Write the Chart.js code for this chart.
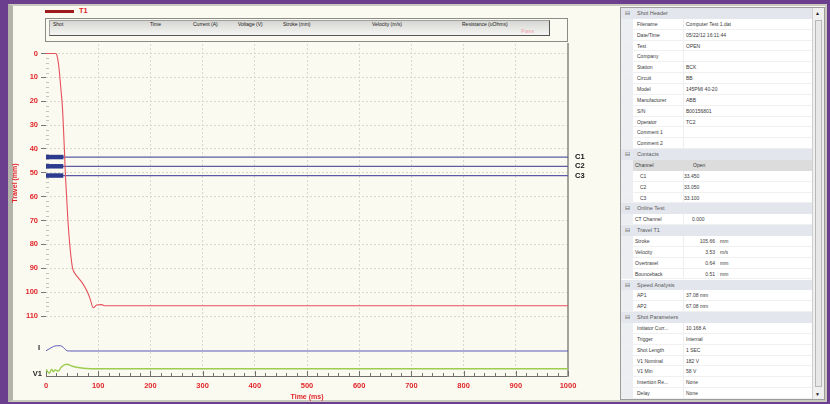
<!DOCTYPE html>
<html>
<head>
<meta charset="utf-8">
<script src="https://cdn.jsdelivr.net/npm/chart.js@4.4.1/dist/chart.umd.min.js"></script>
<style>
html,body{margin:0;padding:0;}
body{width:830px;height:404px;background:#6c3f8e;position:relative;overflow:hidden;font-family:"Liberation Sans",Arial,sans-serif;}
#win{position:absolute;left:8px;top:4px;width:812px;height:394px;background:#fbfaf1;border-left:5px solid #b3b3aa;border-top:2px solid #c9c9c0;border-right:2px solid #c9c9c0;border-bottom:2px solid #c9c9c0;}
#chart{position:absolute;left:0;top:0;z-index:2;}
.abs{position:absolute;white-space:nowrap;}
#legLine{left:45px;top:10px;width:29px;height:3px;background:#9e1b1b;}
#legText{left:79px;top:6px;font-size:7.5px;font-weight:bold;color:#e0262a;}
#hdrOuter{left:45px;top:18px;width:523px;height:24px;border:1px solid #8c8c86;box-sizing:border-box;}
#hdrBar{left:49px;top:20px;width:501px;height:16px;box-sizing:border-box;background:linear-gradient(#d6d6d3,#f5f5f3);border:1px solid #a0a0a0;border-right-color:#555;border-bottom-color:#555;}
.col{top:21px;font-size:5px;color:#222;}
#pass{left:521px;top:28px;font-size:6px;color:#f2a8b0;}
#pg{position:absolute;left:620px;top:7px;width:205px;height:393px;box-sizing:border-box;border:1px solid #9c9c9c;background:#fff;overflow:hidden;font-size:5px;color:#3a3a3a;}
.row{position:absolute;left:0;width:191px;height:10.86px;line-height:10.86px;}
.grp{background:#e3e6ec;color:#5a5a5a;}
.item{border-bottom:1px solid #f0f0f0;box-sizing:border-box;}
.strip{position:absolute;left:0;top:0;width:12px;height:100%;background:#eceef2;}
.div{position:absolute;left:62px;top:0;width:1px;height:100%;background:#eeeeee;}
.t{position:absolute;top:0;}
#sb{position:absolute;left:191px;top:0;width:12px;height:391px;background:#f0f0f0;border-left:1px solid #d0d0d0;box-sizing:border-box;}
#thumb{position:absolute;left:2px;top:12px;width:7px;height:367px;border:1px solid #b8b8b8;background:#e8e8e8;box-sizing:border-box;}
.arr{position:absolute;left:2px;font-size:5px;color:#222;}
</style>
</head>
<body>
<div id="win"></div>
<div class="abs" id="legLine"></div>
<div class="abs" id="legText">T1</div>
<div class="abs" id="hdrOuter"></div>
<div class="abs" id="hdrBar"></div>
<div class="abs col" style="left:53px">Shot</div>
<div class="abs col" style="left:150px">Time</div>
<div class="abs col" style="left:193px">Current (A)</div>
<div class="abs col" style="left:238px">Voltage (V)</div>
<div class="abs col" style="left:283px">Stroke (mm)</div>
<div class="abs col" style="left:372px">Velocity (m/s)</div>
<div class="abs col" style="left:462px">Resistance (uOhms)</div>
<div class="abs" id="pass">Pass</div>
<canvas id="chart" width="620" height="404"></canvas>
<div id="pg"><div id="sb"><div class="arr" style="top:2px">&#9650;</div><div id="thumb"></div><div class="arr" style="top:383px">&#9660;</div></div></div>
<script>

// Travel T1
const travelTimeMs = [0, 19, 21, 23, 25, 27, 29, 31, 33, 35, 37, 39.5, 42, 45.5, 50.5, 52.5, 60, 68.5, 78, 84.5, 90.5, 97, 106.5, 113, 1000];
const travelMm = [0, 0, 0.8, 3, 6.3, 11, 16, 21, 29, 39, 50, 60, 70, 80, 89.5, 91, 93.5, 95.8, 99.3, 102.8, 106.5, 105.4, 105.2, 105.7, 105.7];

// coil current I
const currentTimeMs = [0, 4, 8, 12, 17, 22, 27, 30, 33, 36, 40, 45, 1000];
const currentA = [0.6, 2.8, 5.2, 7.5, 9.6, 10.1, 10.2, 9.2, 7.1, 4, 0.6, 0, 0];

// voltage V1
const voltageTimeMs = [0, 6.3, 10.9, 14, 17.2, 23.6, 30, 39.7, 49.2, 58.8, 71.5, 85, 1000];
const voltageV = [166, 58, 166, 101, 147, 120, 236, 301, 255, 220, 193, 182, 182];

// contacts
const contactNames = ["C1", "C2", "C3"];
const contactOpenMs = [33.45, 33.05, 33.10];

const timeTicks = [0, 100, 200, 300, 400, 500, 600, 700, 800, 900, 1000];
const travelTicks = [0, 10, 20, 30, 40, 50, 60, 70, 80, 90, 100, 110];

const red = "#e0262a";
const gridCol = "#d9d8cc";
const tStart = timeTicks[0];
const tEnd = timeTicks[timeTicks.length - 1];

function pts(xs, ys){
    return xs.map((x, i) => ({x: x, y: ys[i]}));
}

// thick bar while the contact is closed (listed first so it draws on top)
const contactThick = contactNames.map((name, i) => ({
    label: name + " closed",
    data: [{x: tStart, y: i + 1}, {x: contactOpenMs[i], y: i + 1}],
    yAxisID: "yC",
    pointRadius: 0,
    borderColor: "#2c3b8e",
    borderWidth: 4.5,
    borderCapStyle: "butt"
}));

// thin line over the whole shot
const contactThin = contactNames.map((name, i) => ({
    label: name,
    data: [{x: tStart, y: i + 1}, {x: tEnd, y: i + 1}],
    yAxisID: "yC",
    pointRadius: 0,
    borderColor: "#5b5ba6",
    borderWidth: 1.2
}));

// minor tick marks along the axes
const minorTicks = {
    id: "minorTicks",
    beforeDatasetsDraw(chart){
        const c = chart.ctx;
        const x = chart.scales.x;
        const y = chart.scales.y;
        const area = chart.chartArea;
        c.save();
        c.lineWidth = 1;
        c.strokeStyle = "#707070";
        for(let t = 0; t <= 1000; t += 20){
            const px = Math.round(x.getPixelForValue(t)) + 0.5;
            const len = t % 100 === 0 ? 5 : 3;
            c.beginPath();
            c.moveTo(px, area.bottom);
            c.lineTo(px, area.bottom - len);
            c.stroke();
        }
        c.strokeStyle = "#c4c4bc";
        for(let v = 0; v <= 110; v += 2){
            if(v % 10 === 0) continue;
            const py = Math.round(y.getPixelForValue(v)) + 0.5;
            c.beginPath();
            c.moveTo(area.left, py);
            c.lineTo(area.left + 3, py);
            c.stroke();
        }
        c.restore();
    }
};

Chart.defaults.font.family = '"Liberation Sans", Arial, sans-serif';

new Chart(

    document.getElementById("chart"),

    {
        type: "line",

        data: {
            datasets: [
                {
                    label: "T1",
                    data: pts(travelTimeMs, travelMm),
                    yAxisID: "y",
                    borderColor: "#e5505a",
                    borderWidth: 1.1,
                    pointRadius: 0,
                    cubicInterpolationMode: "monotone"
                },
                {
                    label: "I",
                    data: pts(currentTimeMs, currentA),
                    yAxisID: "yI",
                    borderColor: "#5858b8",
                    borderWidth: 1,
                    pointRadius: 0,
                    cubicInterpolationMode: "monotone"
                },
                {
                    label: "V1",
                    data: pts(voltageTimeMs, voltageV),
                    yAxisID: "yV",
                    borderColor: "#9ccc50",
                    borderWidth: 1.4,
                    pointRadius: 0,
                    cubicInterpolationMode: "monotone"
                }
            ].concat(contactThick, contactThin)
        },

        options: {
            responsive: false,
            animation: false,
            layout: {padding: {top: 44, left: 0, right: 0, bottom: 0}},
            plugins: {
                legend: {display: false},
                tooltip: {enabled: false}
            },
            scales: {
                x: {
                    type: "linear",
                    position: "bottom",
                    min: tStart,
                    max: tEnd,
                    afterBuildTicks: s => { s.ticks = timeTicks.map(v => ({value: v})); },
                    ticks: {callback: v => String(v), color: red, font: {size: 7.5, weight: "bold"}, padding: 5, maxRotation: 0, autoSkip: false},
                    grid: {color: c => (c.tick && c.tick.value === 0) ? "rgba(0,0,0,0)" : gridCol, drawTicks: false},
                    border: {display: true, color: "#6e6e6a", width: 1, dash: [2, 2]},
                    title: {display: true, text: "Time (ms)", color: red, font: {size: 7, weight: "bold"}, padding: {top: 0, bottom: 3}},
                    afterFit: s => { s.height = 28; }
                },
                y: {
                    type: "linear",
                    position: "left",
                    stack: "L",
                    stackWeight: 278,
                    weight: 3,
                    reverse: true,
                    min: -3.98,
                    max: 112.5,
                    afterBuildTicks: s => { s.ticks = travelTicks.map(v => ({value: v})); },
                    ticks: {color: red, font: {size: 7.5, weight: "bold"}, padding: 3},
                    grid: {color: gridCol, tickColor: "#777", tickLength: 5},
                    border: {display: false, dash: [2, 2]},
                    title: {display: true, text: "Travel (mm)", color: red, font: {size: 7, weight: "bold"}, padding: {top: 11, bottom: 0}},
                    afterFit: s => { s.width = 46; }
                },
                yI: {
                    type: "linear",
                    position: "left",
                    stack: "L",
                    stackWeight: 36,
                    weight: 2,
                    min: -13.46,
                    max: 55.8,
                    afterBuildTicks: s => { s.ticks = [{value: 5}]; },
                    ticks: {callback: () => "I", color: "#222", font: {size: 7.5, weight: "bold"}, padding: 6},
                    grid: {display: false, drawTicks: false},
                    border: {display: false},
                    afterFit: s => { s.width = 46; }
                },
                yV: {
                    type: "linear",
                    position: "left",
                    stack: "L",
                    stackWeight: 18,
                    weight: 1,
                    min: -14.8,
                    max: 470,
                    afterBuildTicks: s => { s.ticks = [{value: 40}]; },
                    ticks: {callback: () => "V1", color: "#222", font: {size: 7.5, weight: "bold"}, padding: 4},
                    grid: {display: false, drawTicks: false},
                    border: {display: false},
                    afterFit: s => { s.width = 46; }
                },
                yC: {
                    type: "linear",
                    position: "right",
                    reverse: true,
                    min: -11.22,
                    max: 24.67,
                    afterBuildTicks: s => { s.ticks = contactNames.map((n, i) => ({value: i + 1})); },
                    ticks: {callback: v => contactNames[v - 1], color: "#111", font: {size: 7.5, weight: "bold"}, padding: 7},
                    grid: {drawOnChartArea: false, drawTicks: false},
                    border: {display: true, color: "#a3a39b", width: 2},
                    afterFit: s => { s.width = 52; }
                }
            }
        },

        plugins: [minorTicks]
    }
);

// property grid panel
const rows = [
    ["g", "Shot Header"],
    ["i", "Filename", "Computer Test 1.dat"],
    ["i", "Date/Time", "05/22/12 16:11:44"],
    ["i", "Test", "OPEN"],
    ["i", "Company", ""],
    ["i", "Station", "BCK"],
    ["i", "Circuit", "BB"],
    ["i", "Model", "145PMI 40-20"],
    ["i", "Manufacturer", "ABB"],
    ["i", "S/N", "B00156801"],
    ["i", "Operator", "TC2"],
    ["i", "Comment 1", ""],
    ["i", "Comment 2", ""],
    ["g", "Contacts"],
    ["h", "Channel", "Open"],
    ["c", "C1", "33.450"],
    ["c", "C2", "33.050"],
    ["c", "C3", "33.100"],
    ["g", "Online Test"],
    ["o", "CT Channel", "0.000"],
    ["g", "Travel T1"],
    ["u", "Stroke", "105.66", "mm"],
    ["u", "Velocity", "3.53", "m/s"],
    ["u", "Overtravel", "0.64", "mm"],
    ["u", "Bounceback", "0.51", "mm"],
    ["g", "Speed Analysis"],
    ["i", "AP1", "37.08 mm"],
    ["i", "AP2", "67.08 mm"],
    ["g", "Shot Parameters"],
    ["i", "Initiator Curr...", "10.168 A"],
    ["i", "Trigger", "Internal"],
    ["i", "Shot Length", "1 SEC"],
    ["i", "V1 Nominal", "182 V"],
    ["i", "V1 Min", "58 V"],
    ["i", "Insertion Re...", "None"],
    ["i", "Delay", "None"]
];

const pg = document.getElementById("pg");
const rowH = 10.86;

rows.forEach((r, i) => {
    const d = document.createElement("div");
    d.className = "row";
    d.style.top = (i * rowH) + "px";
    let html = "";
    if(r[0] === "g"){
        d.className += " grp";
        html = '<span class="t" style="left:4px;font-size:6px;font-family:DejaVu Sans">&#8863;</span>' +
               '<span class="t" style="left:16px;font-size:5.5px">' + r[1] + '</span>';
    } else if(r[0] === "h"){
        html = '<div class="strip"></div><div style="position:absolute;left:12px;top:0;width:179px;height:100%;background:#dcdcdc"></div>' +
               '<span class="t" style="left:14px">' + r[1] + '</span>' +
               '<span class="t" style="left:72px">' + r[2] + '</span>';
    } else {
        d.className += " item";
        html = '<div class="strip"></div><div class="div"></div>';
        if(r[0] === "c"){
            html += '<span class="t" style="left:19px">' + r[1] + '</span>' +
                    '<span class="t" style="left:63px">' + r[2] + '</span>';
        } else if(r[0] === "o"){
            html += '<span class="t" style="left:14px">' + r[1] + '</span>' +
                    '<span class="t" style="left:71px">' + r[2] + '</span>';
        } else if(r[0] === "u"){
            html += '<span class="t" style="left:14px">' + r[1] + '</span>' +
                    '<span class="t" style="right:97px">' + r[2] + '</span>' +
                    '<span class="t" style="left:99px">' + r[3] + '</span>';
        } else {
            html += '<span class="t" style="left:16px">' + r[1] + '</span>' +
                    '<span class="t" style="left:65px">' + r[2] + '</span>';
        }
    }
    d.innerHTML = html;
    pg.insertBefore(d, document.getElementById("sb"));
});
</script>
</body>
</html>
